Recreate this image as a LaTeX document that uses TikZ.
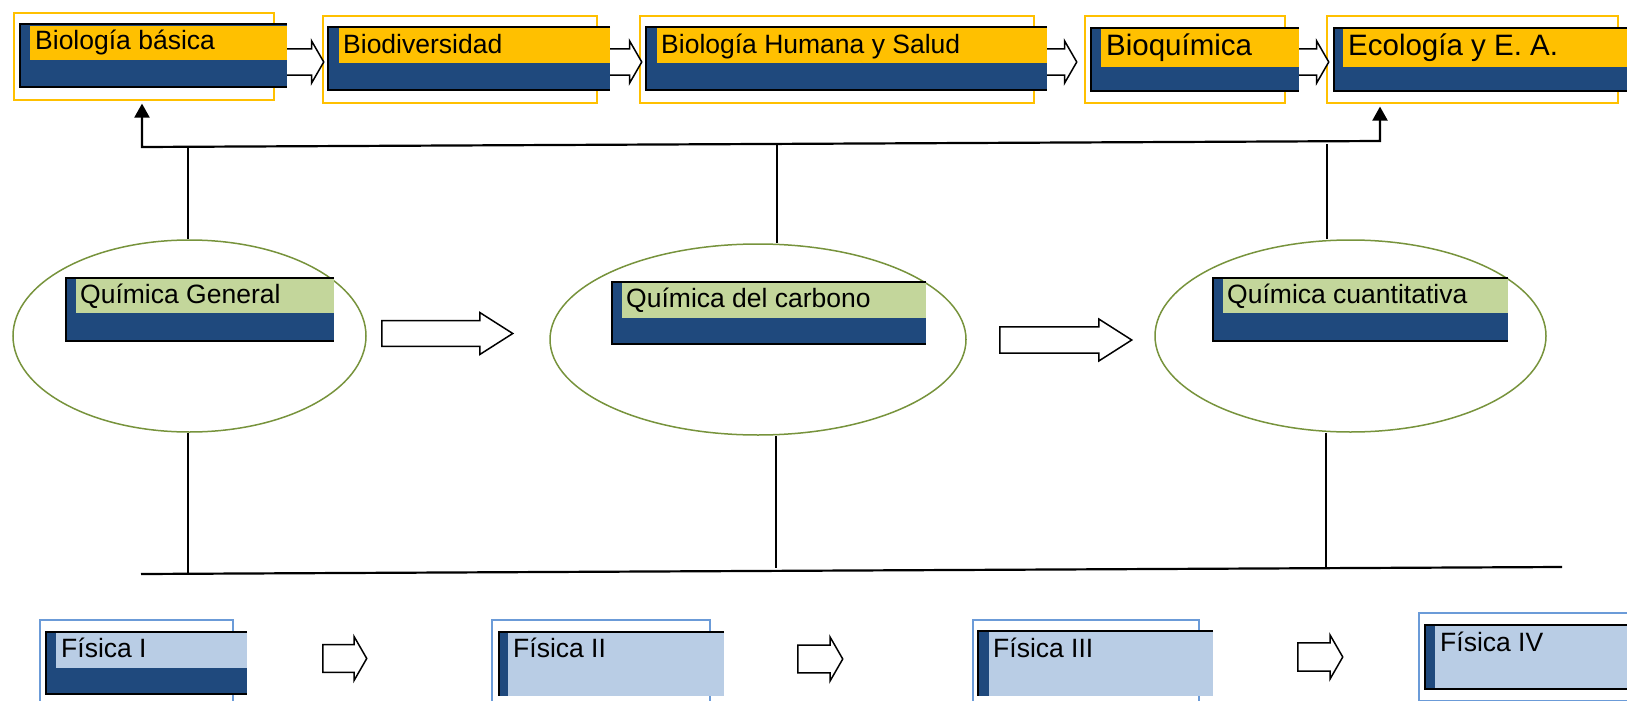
\documentclass[tikz,border=0pt]{standalone}
\usepackage{fontspec}
\setmainfont{Liberation Sans}
\usetikzlibrary{shapes.geometric,shapes.arrows,arrows.meta}
\definecolor{amarillo}{HTML}{FFC000}
\definecolor{azuloscuro}{HTML}{1F497D}
\definecolor{verdeclaro}{HTML}{C3D69B}
\definecolor{celeste}{HTML}{B9CDE5}
\definecolor{marcoazul}{HTML}{6B9BD8}
\definecolor{verdeelipse}{HTML}{77933C}

\begin{document}
\begin{tikzpicture}[x=1pt,y=-1pt,
	marco/.style={draw=#1,line width=1.6pt,fill=white,anchor=north west,inner sep=0pt},
	borde/.style={line width=2.6pt},
	texto/.style={anchor=base west,inner sep=0pt,font=\fontsize{26.5}{30}\selectfont},
	grande/.style={anchor=base west,inner sep=0pt,font=\fontsize{29.5}{34}\selectfont},
	elipse/.style={ellipse,draw=verdeelipse,line width=1.5pt,inner sep=0pt},
	flecha/.style={single arrow,draw,line width=1.5pt,fill=white,anchor=tail,inner xsep=0pt,inner ysep=11pt,minimum width=42pt,single arrow tip angle=120},
	linea/.style={line width=1.2pt},
	lineagruesa/.style={line width=2.2pt}]

	\useasboundingbox (0,0) rectangle (1627,701);

	% marcos de biologia
	\node[marco=amarillo,minimum width=260,minimum height=87] (m1) at (13,12) {};
	\node[marco=amarillo,minimum width=274,minimum height=87] (m2) at (322,15) {};
	\node[marco=amarillo,minimum width=394,minimum height=87] (m3) at (639,15) {};
	\node[marco=amarillo,minimum width=200,minimum height=87] (m4) at (1084,15) {};
	\node[marco=amarillo,minimum width=291,minimum height=87] (m5) at (1326,15) {};

	\node[flecha,minimum height=43] (f1) at (280,62) {};
	\node[flecha,minimum height=37] (f2) at (604,62) {};
	\node[flecha,minimum height=36] (f3) at (1040,62) {};
	\node[flecha,minimum height=35] (f4) at (1293,62) {};

	% biologia
	\fill[azuloscuro] (19,23) rectangle (287,88);
	\fill[amarillo] (30,26) rectangle (287,60);
	\draw[borde] (287,24) -| (20,87) -- (287,87);
	\node[texto] (bb) at (35,50) {Biología básica};

	\fill[azuloscuro] (327,26) rectangle (610,91);
	\fill[amarillo] (339,28) rectangle (610,63);
	\draw[borde] (610,27) -| (328,90) -- (610,90);
	\node[texto] (bd) at (343,53) {Biodiversidad};

	\fill[azuloscuro] (645,26) rectangle (1047,91);
	\fill[amarillo] (657,28) rectangle (1047,63);
	\draw[borde] (1047,27) -| (646,90) -- (1047,90);
	\node[texto] (bh) at (661,53) {Biología Humana y Salud};

	\fill[azuloscuro] (1090,27) rectangle (1299,92);
	\fill[amarillo] (1101,29) rectangle (1299,67);
	\draw[borde] (1299,28) -| (1091,91) -- (1299,91);
	\node[grande] (bq) at (1106,56) {Bioquímica};

	\fill[azuloscuro] (1333,27) rectangle (1640,92);
	\fill[amarillo] (1343,29) rectangle (1640,67);
	\draw[borde] (1640,28) -| (1334,91) -- (1640,91);
	\node[grande] (ec) at (1348,56) {Ecología y E. A.};

	% quimica
	\node[elipse,minimum width=353,minimum height=192] (qg) at (189.5,336) {};
	\node[elipse,minimum width=416,minimum height=191] (qc) at (758,339.5) {};
	\node[elipse,minimum width=391,minimum height=192] (qcu) at (1350.5,336) {};

	\fill[azuloscuro] (65,277) rectangle (334,342);
	\fill[verdeclaro] (76,279) rectangle (334,313);
	\draw[borde] (334,278) -| (66,341) -- (334,341);
	\node[texto] (tqg) at (80,303) {Química General};

	\fill[azuloscuro] (611,281) rectangle (926,345);
	\fill[verdeclaro] (622,283) rectangle (926,318);
	\draw[borde] (926,282) -| (612,344) -- (926,344);
	\node[texto] (tqc) at (626,307) {Química del carbono};

	\fill[azuloscuro] (1212,277) rectangle (1508,342);
	\fill[verdeclaro] (1223,279) rectangle (1508,313);
	\draw[borde] (1508,278) -| (1213,341) -- (1508,341);
	\node[texto] (tqcu) at (1227,303) {Química cuantitativa};

	\node[flecha,minimum height=131,single arrow tip angle=65,inner ysep=10.5pt] (f5) at (381,333.5) {};
	\node[flecha,minimum height=132,single arrow tip angle=65] (f6) at (999,340) {};

	% fisica
	\node[marco=marcoazul,minimum width=193,minimum height=100] (m6) at (39,619) {};
	\node[marco=marcoazul,minimum width=218,minimum height=100] (m7) at (491,619) {};
	\node[marco=marcoazul,minimum width=226,minimum height=100] (m8) at (972,619) {};
	\node[marco=marcoazul,minimum width=230,minimum height=88] (m9) at (1418,612) {};

	\fill[azuloscuro] (45,631) rectangle (247,695);
	\fill[celeste] (56,633) rectangle (247,668);
	\draw[borde] (247,632) -| (46,694) -- (247,694);
	\node[texto] (f1t) at (61,657) {Física I};

	\fill[azuloscuro] (498,631) rectangle (724,696);
	\fill[celeste] (508,633) rectangle (724,696);
	\draw[borde] (724,632) -| (499,696);
	\node[texto] (f2t) at (513,657) {Física II};

	\fill[azuloscuro] (977,630) rectangle (1213,696);
	\fill[celeste] (989,632) rectangle (1213,696);
	\draw[borde] (1213,631) -| (978,696);
	\node[texto] (f3t) at (993,657) {Física III};

	\fill[azuloscuro] (1424,624) rectangle (1640,690);
	\fill[celeste] (1435,626) rectangle (1640,688);
	\draw[borde] (1640,625) -| (1425,689) -- (1640,689);
	\node[texto] (f4t) at (1440,651) {Física IV};

	\node[flecha,minimum height=44,minimum width=44,inner ysep=11.5pt] (f7) at (322,658.5) {};
	\node[flecha,minimum height=45,minimum width=44,inner ysep=11.5pt] (f8) at (797,659) {};
	\node[flecha,minimum height=45,minimum width=44,inner ysep=12pt] (f9) at (1297,657) {};

	% conexiones
	\coordinate (s1) at (142,147);
	\coordinate (s3) at (1380,141);
	\coordinate (a1) at (188,147);
	\coordinate (a2) at (777,145);
	\coordinate (a3) at (1327,144);
	\draw[lineagruesa,{Triangle[length=14pt,width=15pt]}-{Triangle[length=14pt,width=15pt]},shorten <=3pt,shorten >=3pt]
		(s1 |- m1.south) -- (s1) -- (s3) -- (s3 |- m5.south);
	\draw[linea] (a1) -- (a1 |- qg.north);
	\draw[linea] (a2) -- (a2 |- qc.north);
	\draw[linea] (a3) -- (a3 |- qcu.north);

	\coordinate (p1) at (141,574);
	\coordinate (p2) at (1562,567);
	\coordinate (d1) at (188,574);
	\coordinate (d2) at (776,568);
	\coordinate (d3) at (1326,568);
	\draw[lineagruesa] (p1) -- (p2);
	\draw[linea] (qg.south -| d1) -- (d1);
	\draw[linea] (qc.south -| d2) -- (d2);
	\draw[linea] (qcu.south -| d3) -- (d3);
\end{tikzpicture}
\end{document}
